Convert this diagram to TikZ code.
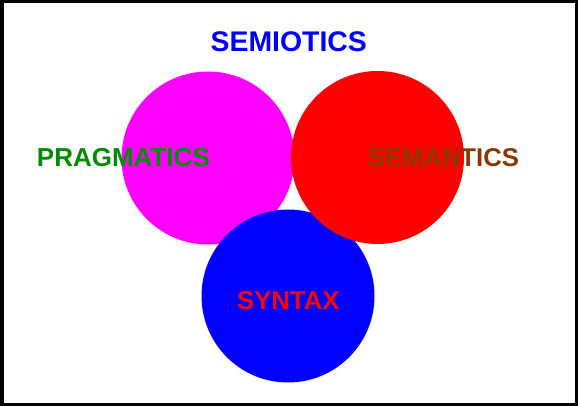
\documentclass[tikz,border=0pt]{standalone}
\usepackage{fontspec}
\setmainfont{Liberation Sans}
\definecolor{txtgreen}{RGB}{0,140,0}
\definecolor{txtbrown}{RGB}{136,56,0}
\definecolor{discmagenta}{RGB}{255,0,255}
\definecolor{discred}{RGB}{255,0,0}
\definecolor{discblue}{RGB}{0,0,255}
\begin{document}
\begin{tikzpicture}[x=1pt,y=-1pt,
  disc/.style={circle,inner sep=0pt,minimum size=173pt,draw=none},
  lbl/.style={anchor=base,inner sep=0pt,font=\bfseries\fontsize{25.7}{28}\selectfont}]
\useasboundingbox (0,0) rectangle (578,406);
\draw[line width=3.5pt] (1.75,1.75) rectangle (576.25,404.25);
\node[disc,fill=discmagenta] (prag) at (208,158) {};
\node[disc,fill=discblue] (synt) at (288,296) {};
\node[disc,fill=discred] (sem) at (377.5,157.5) {};
\node[lbl,text=discblue,font=\bfseries\fontsize{28.4}{30}\selectfont] (semio) at (288.8,52) {SEMIOTICS};
\node[lbl,text=txtgreen,font=\bfseries\fontsize{26}{28}\selectfont] (tprag) at (123.4,166.5) {PRAGMATICS};
\node[lbl,text=txtbrown] (tsem) at (443.3,166.5) {SEMANTICS};
\node[lbl,text=discred,font=\bfseries\fontsize{25.7}{28}\selectfont] (tsyn) at (288.3,309) {SYNTAX};
\end{tikzpicture}
\end{document}
